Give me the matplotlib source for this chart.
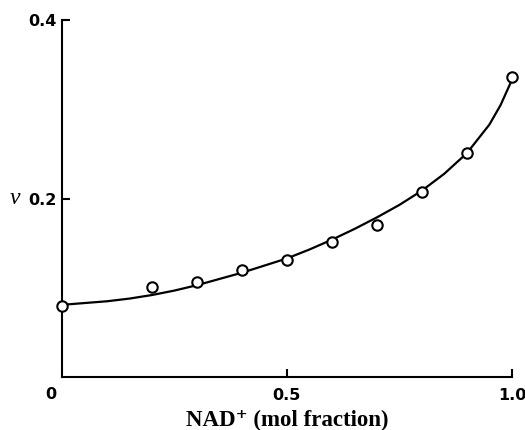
import matplotlib
matplotlib.use('Agg')
import matplotlib.pyplot as plt

# measured points
nad_frac = [0.0, 0.2, 0.3, 0.4, 0.5, 0.6, 0.7, 0.8, 0.9, 1.0]
v_obs = [0.080, 0.101, 0.107, 0.120, 0.131, 0.151, 0.171, 0.208, 0.251, 0.336]

# fitted curve
curve_x = [0.0, 0.05, 0.1, 0.15, 0.2, 0.25, 0.3, 0.35, 0.4, 0.45, 0.5,
           0.55, 0.6, 0.65, 0.7, 0.75, 0.8, 0.85, 0.9, 0.95, 0.975, 1.0]
curve_v = [0.081, 0.083, 0.085, 0.088, 0.092, 0.097, 0.103, 0.110, 0.117, 0.125, 0.133,
           0.143, 0.154, 0.166, 0.179, 0.193, 0.209, 0.228, 0.251, 0.283, 0.305, 0.333]

xticks = [0.5, 1.0]
xtick_labels = ['0.5', '1.0']
yticks = [0.2, 0.4]
ytick_labels = ['0.2', '0.4']

fig = plt.figure(figsize=(5.25, 4.3), dpi=100)
ax = fig.add_axes([0.118, 0.123, 0.857, 0.830])

ax.plot(curve_x, curve_v, color='black', linewidth=1.6, zorder=2)
ax.plot(nad_frac, v_obs, linestyle='none', marker='o', markersize=7.5,
        markerfacecolor='white', markeredgecolor='black', markeredgewidth=1.5,
        clip_on=False, zorder=3)

ax.set_xlim(0, 1.0)
ax.set_ylim(0, 0.4)
ax.spines['top'].set_visible(False)
ax.spines['right'].set_visible(False)
ax.spines['left'].set_linewidth(1.5)
ax.spines['bottom'].set_linewidth(1.5)

ax.set_xticks(xticks)
ax.set_xticklabels(xtick_labels, fontsize=11.5, fontweight='bold')
ax.set_yticks(yticks)
ax.set_yticklabels(ytick_labels, fontsize=11.5, fontweight='bold')
ax.tick_params(axis='x', direction='in', length=6, width=1.5, pad=8)
ax.tick_params(axis='y', direction='in', length=6, width=1.5, pad=4)

# origin label and axis titles
ax.text(-0.025, -0.019, '0', ha='center', va='center',
        fontsize=11.5, fontweight='bold', clip_on=False)
ax.text(-0.105, 0.2, 'v', ha='center', va='center', fontsize=17,
        family='Liberation Serif', style='italic', clip_on=False)
ax.set_xlabel('NAD⁺ (mol fraction)', fontsize=16.5, fontweight='bold',
              family=['Liberation Serif', 'DejaVu Serif'], labelpad=5)

fig.savefig('out.png', dpi=100)
